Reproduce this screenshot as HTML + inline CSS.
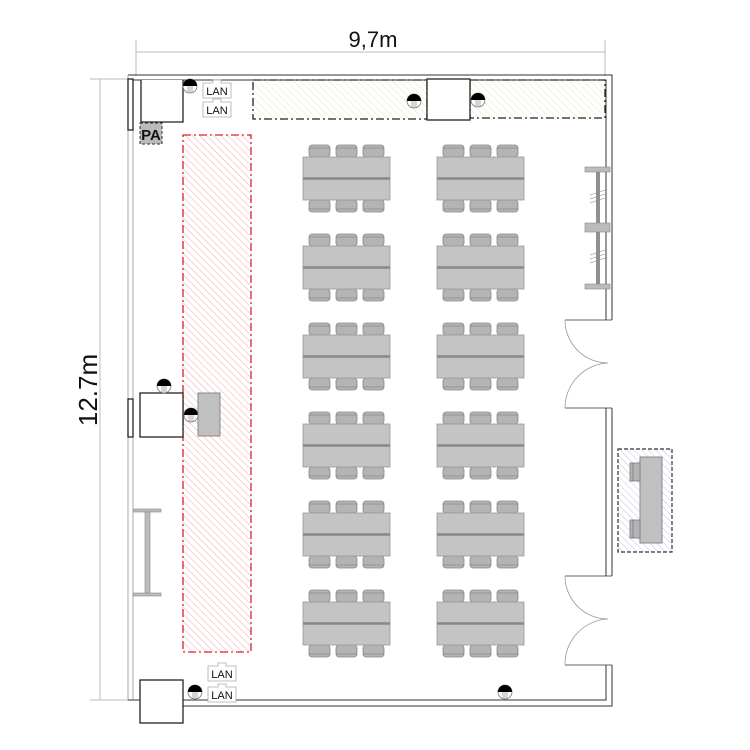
<!DOCTYPE html>
<html><head><meta charset="utf-8"><style>body{margin:0;background:#fff}svg{display:block}</style></head><body>
<svg width="750" height="750" viewBox="0 0 750 750" xmlns="http://www.w3.org/2000/svg" font-family="Liberation Sans, sans-serif">
<defs>
<pattern id="red" patternUnits="userSpaceOnUse" width="5" height="5" patternTransform="rotate(-45)"><line x1="0" y1="0" x2="0" y2="5" stroke="#f0a8a8" stroke-width="1"/></pattern>
<pattern id="yel" patternUnits="userSpaceOnUse" width="5" height="5" patternTransform="rotate(-45)"><line x1="0" y1="0" x2="0" y2="5" stroke="#e8e8b8" stroke-width="1"/></pattern>
<pattern id="blu" patternUnits="userSpaceOnUse" width="5" height="5" patternTransform="rotate(-45)"><line x1="0" y1="0" x2="0" y2="5" stroke="#c0c0ec" stroke-width="1"/></pattern>
<g id="outlet"><circle r="7" fill="#fff" stroke="#777" stroke-width="0.8"/><path d="M-7,0 A7,7 0 0 1 7,0 Z" fill="#000"/><line x1="-2" y1="0" x2="-2" y2="6.5" stroke="#777" stroke-width="0.6"/><line x1="0" y1="0" x2="0" y2="7" stroke="#777" stroke-width="0.6"/><line x1="2" y1="0" x2="2" y2="6.5" stroke="#777" stroke-width="0.6"/></g>
<g id="chair"><rect x="0" y="0" width="21" height="12" rx="3" fill="#b4b4b4" stroke="#888" stroke-width="0.8"/><line x1="0" y1="3" x2="21" y2="3" stroke="#888" stroke-width="0.8"/></g>
<g id="table">
<use href="#chair" x="6" y="-12"/><use href="#chair" x="33" y="-12"/><use href="#chair" x="60" y="-12"/>
<g transform="translate(0,43) scale(1,-1)"><use href="#chair" x="6" y="-12"/><use href="#chair" x="33" y="-12"/><use href="#chair" x="60" y="-12"/></g>
<rect x="0" y="0" width="87" height="43" fill="#c4c4c4" stroke="#999" stroke-width="0.8"/>
<line x1="0" y1="21.5" x2="87" y2="21.5" stroke="#888" stroke-width="2.5"/>
</g>
<g id="lan"><path d="M0,3 H10 V0 H18 V3 H28 V18 H0 Z" fill="#fff" stroke="#aaa" stroke-width="0.8"/><text x="14" y="15" font-size="11" text-anchor="middle" fill="#111">LAN</text></g>
</defs>

<line x1="136" y1="52" x2="605" y2="52" stroke="#bbb"/>
<line x1="136" y1="40" x2="136" y2="76" stroke="#bbb"/>
<line x1="605" y1="40" x2="605" y2="76" stroke="#bbb"/>
<text x="373" y="47" font-size="22" text-anchor="middle" fill="#111">9,7m</text>
<line x1="100" y1="79" x2="100" y2="700" stroke="#bbb"/>
<line x1="90" y1="79" x2="128" y2="79" stroke="#bbb"/>
<line x1="90" y1="700" x2="128" y2="700" stroke="#bbb"/>
<text transform="translate(97,390) rotate(-90)" font-size="26" text-anchor="middle" fill="#111">12.7m</text>

<rect x="183" y="135" width="68" height="517" fill="url(#red)" stroke="#e02020" stroke-width="1.3" stroke-dasharray="8,3,2,3"/>
<rect x="253" y="80" width="174" height="39" fill="url(#yel)" stroke="#222" stroke-width="1.3" stroke-dasharray="8,3,2,3"/>
<rect x="470" y="80" width="135" height="38" fill="url(#yel)" stroke="#222" stroke-width="1.3" stroke-dasharray="8,3,2,3"/>

<g fill="none" stroke="#333" stroke-width="1">
<path d="M128,75 H612 V320 M612,408 V576 M612,665 V706 H140"/>
<path d="M133,80 H606 V320 M606,408 V576 M606,665 V700 H183"/>
<line x1="128" y1="75" x2="128" y2="700" stroke="#aaa"/>
<line x1="133" y1="80" x2="133" y2="700" stroke="#aaa"/>
<line x1="128" y1="700" x2="140" y2="700" />
</g>
<g fill="none" stroke="#999" stroke-width="0.8">
<line x1="565" y1="320" x2="612" y2="320" stroke="#333"/>
<line x1="565" y1="408" x2="612" y2="408" stroke="#333"/>
<path d="M565,320 A43,43 0 0 0 608,363"/>
<path d="M565,408 A45,45 0 0 1 608,363"/>
<line x1="565" y1="576" x2="612" y2="576" stroke="#333"/>
<line x1="565" y1="665" x2="612" y2="665" stroke="#333"/>
<path d="M565,576 A43,43 0 0 0 608,619"/>
<path d="M565,665 A45,45 0 0 1 608,619"/>
</g>

<g fill="#fff" stroke="#222" stroke-width="1.3">
<rect x="128" y="79" width="5" height="51"/>
<path d="M141,80 V122 H183 V80"/>
<rect x="427" y="79" width="43" height="41"/>
<rect x="140" y="393" width="43" height="44"/>
<rect x="128" y="399" width="5" height="38"/>
<rect x="140" y="680" width="43" height="43"/>
</g>
<rect x="140" y="123" width="22" height="21" fill="#bbb" stroke="#333" stroke-dasharray="3,2"/>
<text x="151" y="140" font-size="15" font-weight="bold" text-anchor="middle" fill="#111">PA</text>

<use href="#lan" x="203" y="80"/>
<use href="#lan" x="203" y="99"/>
<use href="#lan" x="208" y="663"/>
<use href="#lan" x="208" y="684"/>

<use href="#outlet" x="190" y="86"/>
<use href="#outlet" x="414" y="101"/>
<use href="#outlet" x="478" y="100"/>
<use href="#outlet" x="164" y="386"/>
<use href="#outlet" x="191" y="415"/>
<use href="#outlet" x="195" y="692"/>
<use href="#outlet" x="505" y="692"/>

<rect x="198" y="393" width="22" height="43" fill="#c0c0c0" stroke="#888"/>
<rect x="133" y="509" width="28" height="3" fill="#bbb" stroke="#888" stroke-width="0.6"/>
<rect x="133" y="593" width="28" height="3" fill="#bbb" stroke="#888" stroke-width="0.6"/>
<rect x="145" y="512" width="5" height="81" fill="#bbb" stroke="#888" stroke-width="0.6"/>

<line x1="597" y1="167" x2="597" y2="289" stroke="#222"/>
<line x1="599" y1="167" x2="599" y2="289" stroke="#222"/>
<rect x="585" y="167" width="25" height="5" fill="#bbb" stroke="#888" stroke-width="0.6"/>
<rect x="585" y="223" width="25" height="9" fill="#bbb" stroke="#888" stroke-width="0.6"/>
<rect x="585" y="284" width="25" height="5" fill="#bbb" stroke="#888" stroke-width="0.6"/>
<g stroke="#888" stroke-width="0.6"><line x1="590" y1="195" x2="605" y2="190"/><line x1="590" y1="199" x2="605" y2="194"/><line x1="590" y1="203" x2="605" y2="198"/><line x1="590" y1="255" x2="605" y2="250"/><line x1="590" y1="259" x2="605" y2="254"/><line x1="590" y1="263" x2="605" y2="258"/></g>

<use href="#table" x="303" y="157"/><use href="#table" x="437" y="157"/>
<use href="#table" x="303" y="246"/><use href="#table" x="437" y="246"/>
<use href="#table" x="303" y="335"/><use href="#table" x="437" y="335"/>
<use href="#table" x="303" y="424"/><use href="#table" x="437" y="424"/>
<use href="#table" x="303" y="513"/><use href="#table" x="437" y="513"/>
<use href="#table" x="303" y="602"/><use href="#table" x="437" y="602"/>

<rect x="618" y="449" width="54" height="103" fill="url(#blu)" stroke="#333" stroke-width="1.2" stroke-dasharray="4,2"/>
<rect x="640" y="457" width="22" height="86" fill="#c0c0c0" stroke="#888"/>
<g fill="#b4b4b4" stroke="#777" stroke-width="0.8">
<rect x="630" y="463" width="10" height="18"/><line x1="633" y1="463" x2="633" y2="481"/>
<rect x="630" y="520" width="10" height="18"/><line x1="633" y1="520" x2="633" y2="538"/>
</g>
</svg>
</body></html>
